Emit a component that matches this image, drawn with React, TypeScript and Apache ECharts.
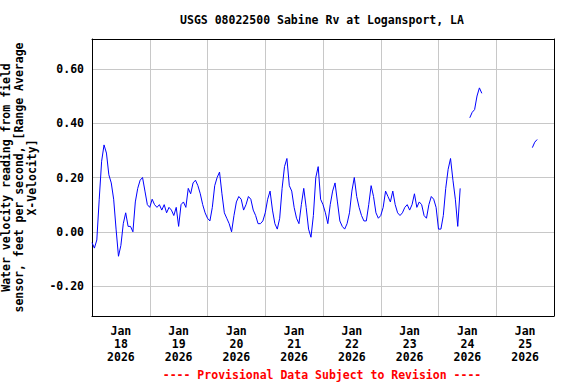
import React, { useEffect, useRef } from "react";
import * as echarts from "echarts";

const TITLE = "USGS 08022500 Sabine Rv at Logansport, LA";
const FOOTER = "---- Provisional Data Subject to Revision ----";
const Y_NAME = "Water velocity reading from field\nsensor, feet per second, [Range Average\nX-Velocity]";

const dayLabels = [
  "Jan\n18\n2026", "Jan\n19\n2026", "Jan\n20\n2026", "Jan\n21\n2026",
  "Jan\n22\n2026", "Jan\n23\n2026", "Jan\n24\n2026", "Jan\n25\n2026",
];

// hourly values, ft/s, starting Jan 18 2026 00:00
const velJan18 = [-0.04, -0.06, -0.03, 0.12, 0.26, 0.32, 0.29, 0.21, 0.18, 0.12, 0.01, -0.09,
  -0.05, 0.03, 0.07, 0.02, 0.02, 0.0, 0.11, 0.16, 0.19, 0.2, 0.15, 0.1];
const velJan19 = [0.09, 0.12, 0.1, 0.09, 0.1, 0.08, 0.1, 0.07, 0.09, 0.08, 0.06, 0.09,
  0.02, 0.1, 0.11, 0.09, 0.16, 0.14, 0.18, 0.19, 0.17, 0.14, 0.1, 0.07];
const velJan20 = [0.05, 0.04, 0.09, 0.17, 0.2, 0.22, 0.14, 0.07, 0.05, 0.03, 0.0, 0.06,
  0.11, 0.13, 0.12, 0.08, 0.1, 0.13, 0.12, 0.08, 0.06, 0.03, 0.03, 0.04];
const velJan21 = [0.07, 0.12, 0.15, 0.08, 0.03, 0.01, 0.05, 0.16, 0.24, 0.27, 0.17, 0.15,
  0.09, 0.05, 0.03, 0.1, 0.16, 0.09, 0.01, -0.02, 0.06, 0.2, 0.24, 0.12];
const velJan22 = [0.1, 0.07, 0.03, 0.1, 0.15, 0.18, 0.11, 0.04, 0.02, 0.01, 0.03, 0.07,
  0.15, 0.2, 0.13, 0.09, 0.06, 0.04, 0.04, 0.1, 0.17, 0.13, 0.07, 0.05];
const velJan23 = [0.06, 0.09, 0.15, 0.13, 0.11, 0.15, 0.1, 0.07, 0.06, 0.07, 0.09, 0.1,
  0.08, 0.1, 0.14, 0.09, 0.11, 0.1, 0.06, 0.05, 0.1, 0.13, 0.12, 0.09];
const velJan24 = [0.01, 0.01, 0.06, 0.16, 0.23, 0.27, 0.19, 0.12, 0.02, 0.16, null, null,
  null, 0.42, 0.44, 0.45, 0.5, 0.53, 0.51, null, null, null, null, null];
const velJan25 = [null, null, null, null, null, null, null, null, null, null, null, null,
  null, null, null, 0.31, 0.33, 0.34, null, null, null, null, null, null];

const START = new Date(2026, 0, 18).getTime();
const END = new Date(2026, 0, 26).getTime();
const HOUR = 3600 * 1000;

const FONT = "DejaVu Sans Mono";
const black = { show: true, onZero: false, lineStyle: { color: "#000000", width: 1 } };
const grey = { show: true, lineStyle: { color: "#c8c8c8", width: 1 } };

export default function App() {
  const ref = useRef<HTMLDivElement>(null);
  useEffect(() => {
    if (!ref.current) return;
    const chart = echarts.init(ref.current, undefined, { renderer: "svg" });
    const all = [...velJan18, ...velJan19, ...velJan20, ...velJan21, ...velJan22, ...velJan23, ...velJan24, ...velJan25];
    const data = all.map((v, i) => [START + i * HOUR, v]);
    chart.setOption({
      animation: false,
      backgroundColor: "#ffffff",
      title: [
        {
          text: TITLE, left: 322, top: 13, textAlign: "center", padding: 0,
          textStyle: { fontFamily: FONT, fontWeight: "bold", fontSize: 11.5, color: "#000", lineHeight: 14 },
        },
        {
          text: FOOTER, left: 322, top: 368, textAlign: "center", padding: 0,
          textStyle: { fontFamily: FONT, fontWeight: "bold", fontSize: 11.5, color: "#ff0000", lineHeight: 14 },
        },
      ],
      grid: {
        left: 92, right: 22, top: 39, bottom: 68,
        outerBoundsMode: "none", containLabel: false,
      },
      xAxis: [
        {
          type: "time", min: START, max: END, position: "top",
          axisLine: black, axisTick: { show: false }, axisLabel: { show: false }, splitLine: { show: false },
        },
        {
          type: "category", data: dayLabels, position: "bottom", boundaryGap: true,
          axisLine: black, axisTick: { show: false },
          splitLine: grey,
          axisLabel: {
            interval: 0, margin: 8, color: "#000", fontFamily: FONT, fontWeight: "bold",
            fontSize: 11.5, lineHeight: 13,
          },
        },
      ],
      yAxis: [
        {
          type: "value", min: -0.31, max: 0.71, splitNumber: 5, position: "left",
          name: Y_NAME, nameLocation: "middle", nameRotate: 90, nameGap: 48,
          nameTextStyle: { color: "#000", fontFamily: FONT, fontWeight: "bold", fontSize: 11.5, lineHeight: 13, align: "center" },
          axisLine: black, axisTick: { show: false },
          splitLine: grey,
          axisLabel: {
            showMinLabel: false, showMaxLabel: false, margin: 8,
            color: "#000", fontFamily: FONT, fontWeight: "bold", fontSize: 11.5,
            formatter: (v: number) => v.toFixed(2),
          },
        },
        {
          type: "value", min: -0.31, max: 0.71, position: "right",
          axisLine: black, axisTick: { show: false }, axisLabel: { show: false }, splitLine: { show: false },
        },
      ],
      series: [
        {
          type: "line", xAxisIndex: 0, yAxisIndex: 0, data, showSymbol: false, connectNulls: false,
          lineStyle: { color: "#0000ff", width: 1 }, itemStyle: { color: "#0000ff" },
        },
      ],
    });
    return () => chart.dispose();
  }, []);
  return <div ref={ref} style={{ position: "absolute", left: 0, top: 0, width: 576, height: 384, background: "#fff" }} />;
}
